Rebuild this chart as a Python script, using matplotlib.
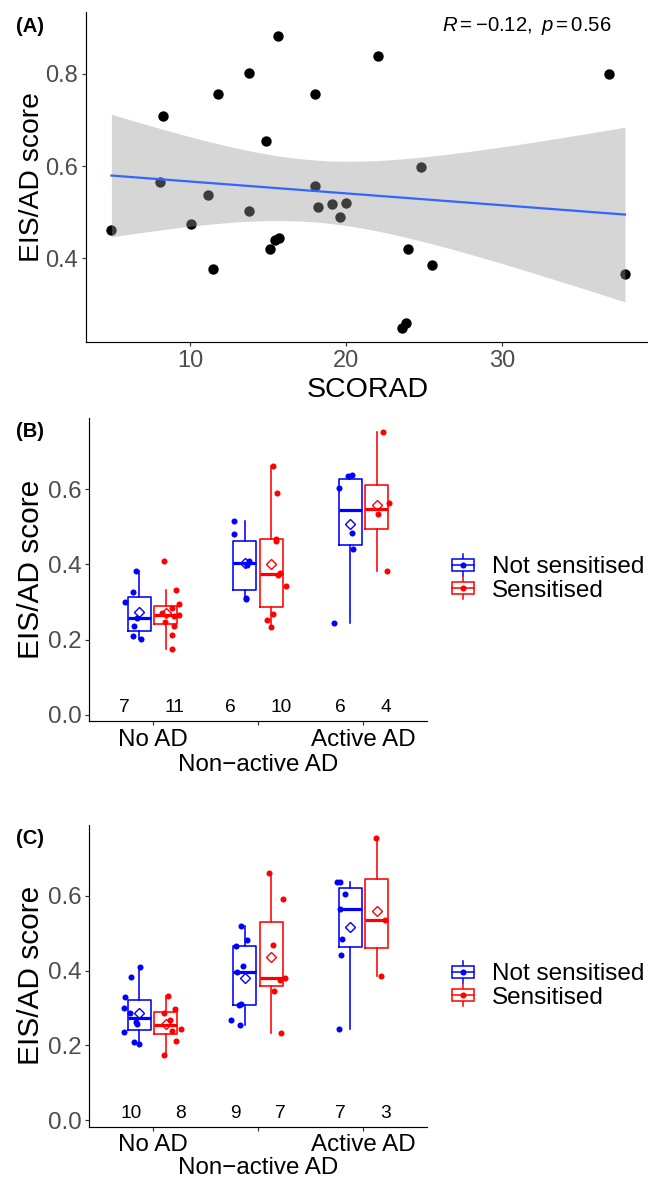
import numpy as np
import matplotlib
matplotlib.use('Agg')
import matplotlib.pyplot as plt
from matplotlib.legend_handler import HandlerBase
from matplotlib.patches import Rectangle
from matplotlib.lines import Line2D

plt.rcParams['font.family'] = ['Liberation Sans', 'DejaVu Sans']
plt.rcParams['mathtext.fontset'] = 'custom'
plt.rcParams['mathtext.rm'] = 'Liberation Sans'
plt.rcParams['mathtext.it'] = 'Liberation Sans:italic'

# ---------------- Panel A data ----------------
scorad = [4.94, 8.03, 8.25, 10.04, 11.11, 11.43, 11.75, 13.74, 13.74, 14.85,
          15.13, 15.41, 15.67, 15.62, 18.01, 18.01, 18.22, 19.12, 19.62, 20.0,
          22.03, 23.57, 23.83, 23.99, 24.81, 25.49, 36.88, 37.88]
eis_a = [0.461, 0.565, 0.709, 0.473, 0.538, 0.377, 0.756, 0.802, 0.502, 0.654,
         0.420, 0.439, 0.443, 0.883, 0.756, 0.557, 0.512, 0.517, 0.489, 0.520,
         0.839, 0.247, 0.259, 0.420, 0.598, 0.386, 0.800, 0.365]
cor_label = r'$R = -0.12,\ p = 0.56$'

# ---------------- Panels B / C data ----------------
categories = ['No AD', 'Non\u2212active AD', 'Active AD']
groups = ['Not sensitised', 'Sensitised']
group_colors = ['#0000FF', '#FF0000']

b_noad_ns = [0.382, 0.327, 0.299, 0.256, 0.235, 0.209, 0.201]
b_noad_s = [0.409, 0.331, 0.294, 0.283, 0.270, 0.264, 0.262, 0.247, 0.236, 0.211, 0.174]
b_nonact_ns = [0.516, 0.481, 0.410, 0.398, 0.310, 0.307]
b_nonact_s = [0.662, 0.589, 0.468, 0.462, 0.376, 0.372, 0.343, 0.267, 0.251, 0.232]
b_act_ns = [0.638, 0.635, 0.603, 0.484, 0.440, 0.245]
b_act_s = [0.752, 0.563, 0.533, 0.383]

b_noad_ns_jit = [-0.03, -0.06, -0.14, -0.02, -0.05, -0.06, 0.02]
b_noad_s_jit = [-0.02, 0.094, 0.129, 0.06, -0.032, 0.122, 0.076, -0.01, 0.082, 0.06, 0.063]
b_nonact_ns_jit = [-0.10, -0.10, 0.04, 0.025, 0.015, 0.011]
b_nonact_s_jit = [0.022, 0.053, 0.05, 0.044, 0.079, 0.067, 0.141, 0.022, -0.035, 0.003]
b_act_ns_jit = [0.021, -0.017, -0.108, 0.015, 0.03, -0.15]
b_act_s_jit = [0.056, 0.117, 0.009, 0.094]

c_noad_ns = [0.410, 0.383, 0.329, 0.300, 0.287, 0.262, 0.258, 0.236, 0.210, 0.203]
c_noad_s = [0.333, 0.298, 0.287, 0.267, 0.238, 0.245, 0.213, 0.174]
c_nonact_ns = [0.518, 0.483, 0.467, 0.411, 0.397, 0.312, 0.309, 0.267, 0.254]
c_nonact_s = [0.662, 0.591, 0.469, 0.381, 0.374, 0.345, 0.234]
c_act_ns = [0.637, 0.636, 0.604, 0.5645, 0.485, 0.441, 0.245]
c_act_s = [0.754, 0.536, 0.385]

c_noad_ns_jit = [0.009, -0.077, -0.14, -0.15, -0.086, -0.029, -0.025, -0.15, -0.048, -0.008]
c_noad_s_jit = [0.022, 0.084, -0.02, 0.044, 0.06, 0.148, 0.1, -0.02]
c_nonact_ns_jit = [-0.032, 0.018, -0.08, -0.017, -0.07, -0.039, -0.053, -0.127, -0.048]
c_nonact_s_jit = [-0.02, 0.11, 0.022, 0.132, 0.084, 0.027, 0.091]
c_act_ns_jit = [-0.096, -0.121, -0.051, -0.096, -0.077, -0.089, -0.105]
c_act_s_jit = [-0.01, 0.075, 0.037]

data_b = [[b_noad_ns, b_noad_s], [b_nonact_ns, b_nonact_s], [b_act_ns, b_act_s]]
jit_b = [[b_noad_ns_jit, b_noad_s_jit], [b_nonact_ns_jit, b_nonact_s_jit], [b_act_ns_jit, b_act_s_jit]]
data_c = [[c_noad_ns, c_noad_s], [c_nonact_ns, c_nonact_s], [c_act_ns, c_act_s]]
jit_c = [[c_noad_ns_jit, c_noad_s_jit], [c_nonact_ns_jit, c_nonact_s_jit], [c_act_ns_jit, c_act_s_jit]]

count_off_b = [[-0.265, 0.206], [-0.265, 0.215], [-0.22, 0.212]]
count_off_c = [[-0.202, 0.263], [-0.211, 0.215], [-0.221, 0.206]]

W, H = 648, 1179
fig = plt.figure(figsize=(W / 100, H / 100), dpi=100)


def px_rect(left, top, right, bottom):
    return [left / W, 1 - bottom / H, (right - left) / W, (bottom - top) / H]


def style_axes(ax, labelsize):
    for s in ['top', 'right']:
        ax.spines[s].set_visible(False)
    for s in ['left', 'bottom']:
        ax.spines[s].set_linewidth(0.85)
        ax.spines[s].set_color('black')
    ax.tick_params(axis='both', length=3.2, width=0.85, color='#333333',
                   labelcolor='#4D4D4D', labelsize=labelsize, pad=2.2)


# ---------------- Panel A ----------------
axA = fig.add_axes(px_rect(85.7, 12.3, 650.7, 342.3))
x = np.array(scorad)
y = np.array(eis_a)
axA.scatter(x, y, s=56, color='black', linewidths=0, zorder=2)
slope, intercept = np.polyfit(x, y, 1)
xs = np.linspace(x.min(), x.max(), 200)
ys = intercept + slope * xs
n = len(x)
resid = y - (intercept + slope * x)
s_err = np.sqrt(np.sum(resid ** 2) / (n - 2))
sxx = np.sum((x - x.mean()) ** 2)
t_crit = 2.0555  # t(0.975, df=26)
se = s_err * np.sqrt(1.0 / n + (xs - x.mean()) ** 2 / sxx)
axA.fill_between(xs, ys - t_crit * se, ys + t_crit * se, color='#999999', alpha=0.4,
                 linewidth=0, zorder=3)
axA.plot(xs, ys, color='#3366FF', lw=1.6, zorder=4)
axA.set_xlim(3.29, 39.53)
axA.set_ylim(0.217, 0.934)
axA.set_xticks([10, 20, 30])
axA.set_yticks([0.4, 0.6, 0.8])
axA.set_yticklabels(['0.4', '0.6', '0.8'])
style_axes(axA, 17)
axA.set_xlabel('SCORAD', fontsize=20.5)
axA.xaxis.set_label_coords(0.5, -0.105)
axA.set_ylabel('EIS/AD score', fontsize=20.3)
axA.yaxis.set_label_coords((45 - 85.7) / (650.7 - 85.7), 0.5)
fig.text(441.7 / W, 1 - 26 / H, cor_label, fontsize=14.6, ha='left', va='center')


# ---------------- Panels B / C ----------------
class BoxKey(HandlerBase):
    def create_artists(self, legend, orig_handle, xdescent, ydescent, width, height,
                       fontsize, trans):
        c = orig_handle.get_color()
        x0, y0 = -xdescent, -ydescent
        cx, cy = x0 + width / 2, y0 + height / 2
        return [
            Line2D([cx, cx], [y0 - 0.14 * height, y0 + 1.14 * height], color=c, lw=1.1,
                   transform=trans),
            Rectangle((x0, y0 + 0.167 * height), width, 0.667 * height, fc='white', ec=c,
                      lw=1.1, transform=trans),
            Line2D([x0, x0 + width], [cy, cy], color=c, lw=1.1, transform=trans),
            Line2D([cx], [cy], marker='o', ms=4.4, color=c, mew=0, transform=trans),
        ]


def box_panel(rect, data, jit, count_off, legend_center_y, mid_pad):
    ax = fig.add_axes(px_rect(*rect))
    for ci in range(len(categories)):
        for gi in range(len(groups)):
            vals = np.array(data[ci][gi])
            pos = ci + 1 + (gi - 0.5) * 0.25
            col = group_colors[gi]
            ax.boxplot([vals], positions=[pos], widths=0.215, whis=1.5, showfliers=False,
                       showcaps=False, manage_ticks=False,
                       boxprops=dict(color=col, lw=1.15),
                       whiskerprops=dict(color=col, lw=1.15),
                       medianprops=dict(color=col, lw=2.3, solid_capstyle='butt'),
                       zorder=2)
            ax.plot([pos], [vals.mean()], marker='D', ms=5, mfc='none', mec=col, mew=1.0,
                    zorder=3, ls='none')
            ax.scatter(pos + np.array(jit[ci][gi]), vals, s=19, color=col, linewidths=0,
                       zorder=4)
            ax.text(ci + 1 + count_off[ci][gi], 0.018, str(len(vals)), ha='center',
                    va='center', fontsize=13.8, color='black')
    ax.set_xlim(0.4, 3.6)
    ax.set_ylim(-0.017, 0.789)
    ax.set_yticks([0.0, 0.2, 0.4, 0.6])
    ax.set_yticklabels(['0.0', '0.2', '0.4', '0.6'])
    ax.set_xticks([1, 2, 3])
    ax.set_xticklabels(categories)
    style_axes(ax, 17.4)
    ax.tick_params(axis='x', labelcolor='black')
    ax.xaxis.get_major_ticks()[1].set_pad(mid_pad)
    ax.set_ylabel('EIS/AD score', fontsize=21.5)
    ax.yaxis.set_label_coords((44.5 - rect[0]) / (rect[2] - rect[0]), 0.5)
    handles = [Line2D([], [], color=c) for c in group_colors]
    fig.legend(handles, groups, handler_map={h: BoxKey() for h in handles},
               loc='center left', bbox_to_anchor=(451.7 / W, 1 - legend_center_y / H),
               frameon=False, fontsize=17.5, handlelength=0.92, handleheight=0.7,
               handletextpad=0.72, labelspacing=0.05, borderpad=0, borderaxespad=0)
    return ax


box_panel((89.3, 418.3, 426.7, 721.0), data_b, jit_b, count_off_b, 579, 20.8)
box_panel((89.3, 825.0, 426.7, 1126.7), data_c, jit_c, count_off_c, 986, 18.3)

for lab, yc in [('(A)', 26), ('(B)', 432), ('(C)', 839)]:
    fig.text(16.0 / W, 1 - yc / H, lab, fontsize=14.5, fontweight='bold', ha='left',
             va='center')

fig.savefig('out.png', dpi=100)
